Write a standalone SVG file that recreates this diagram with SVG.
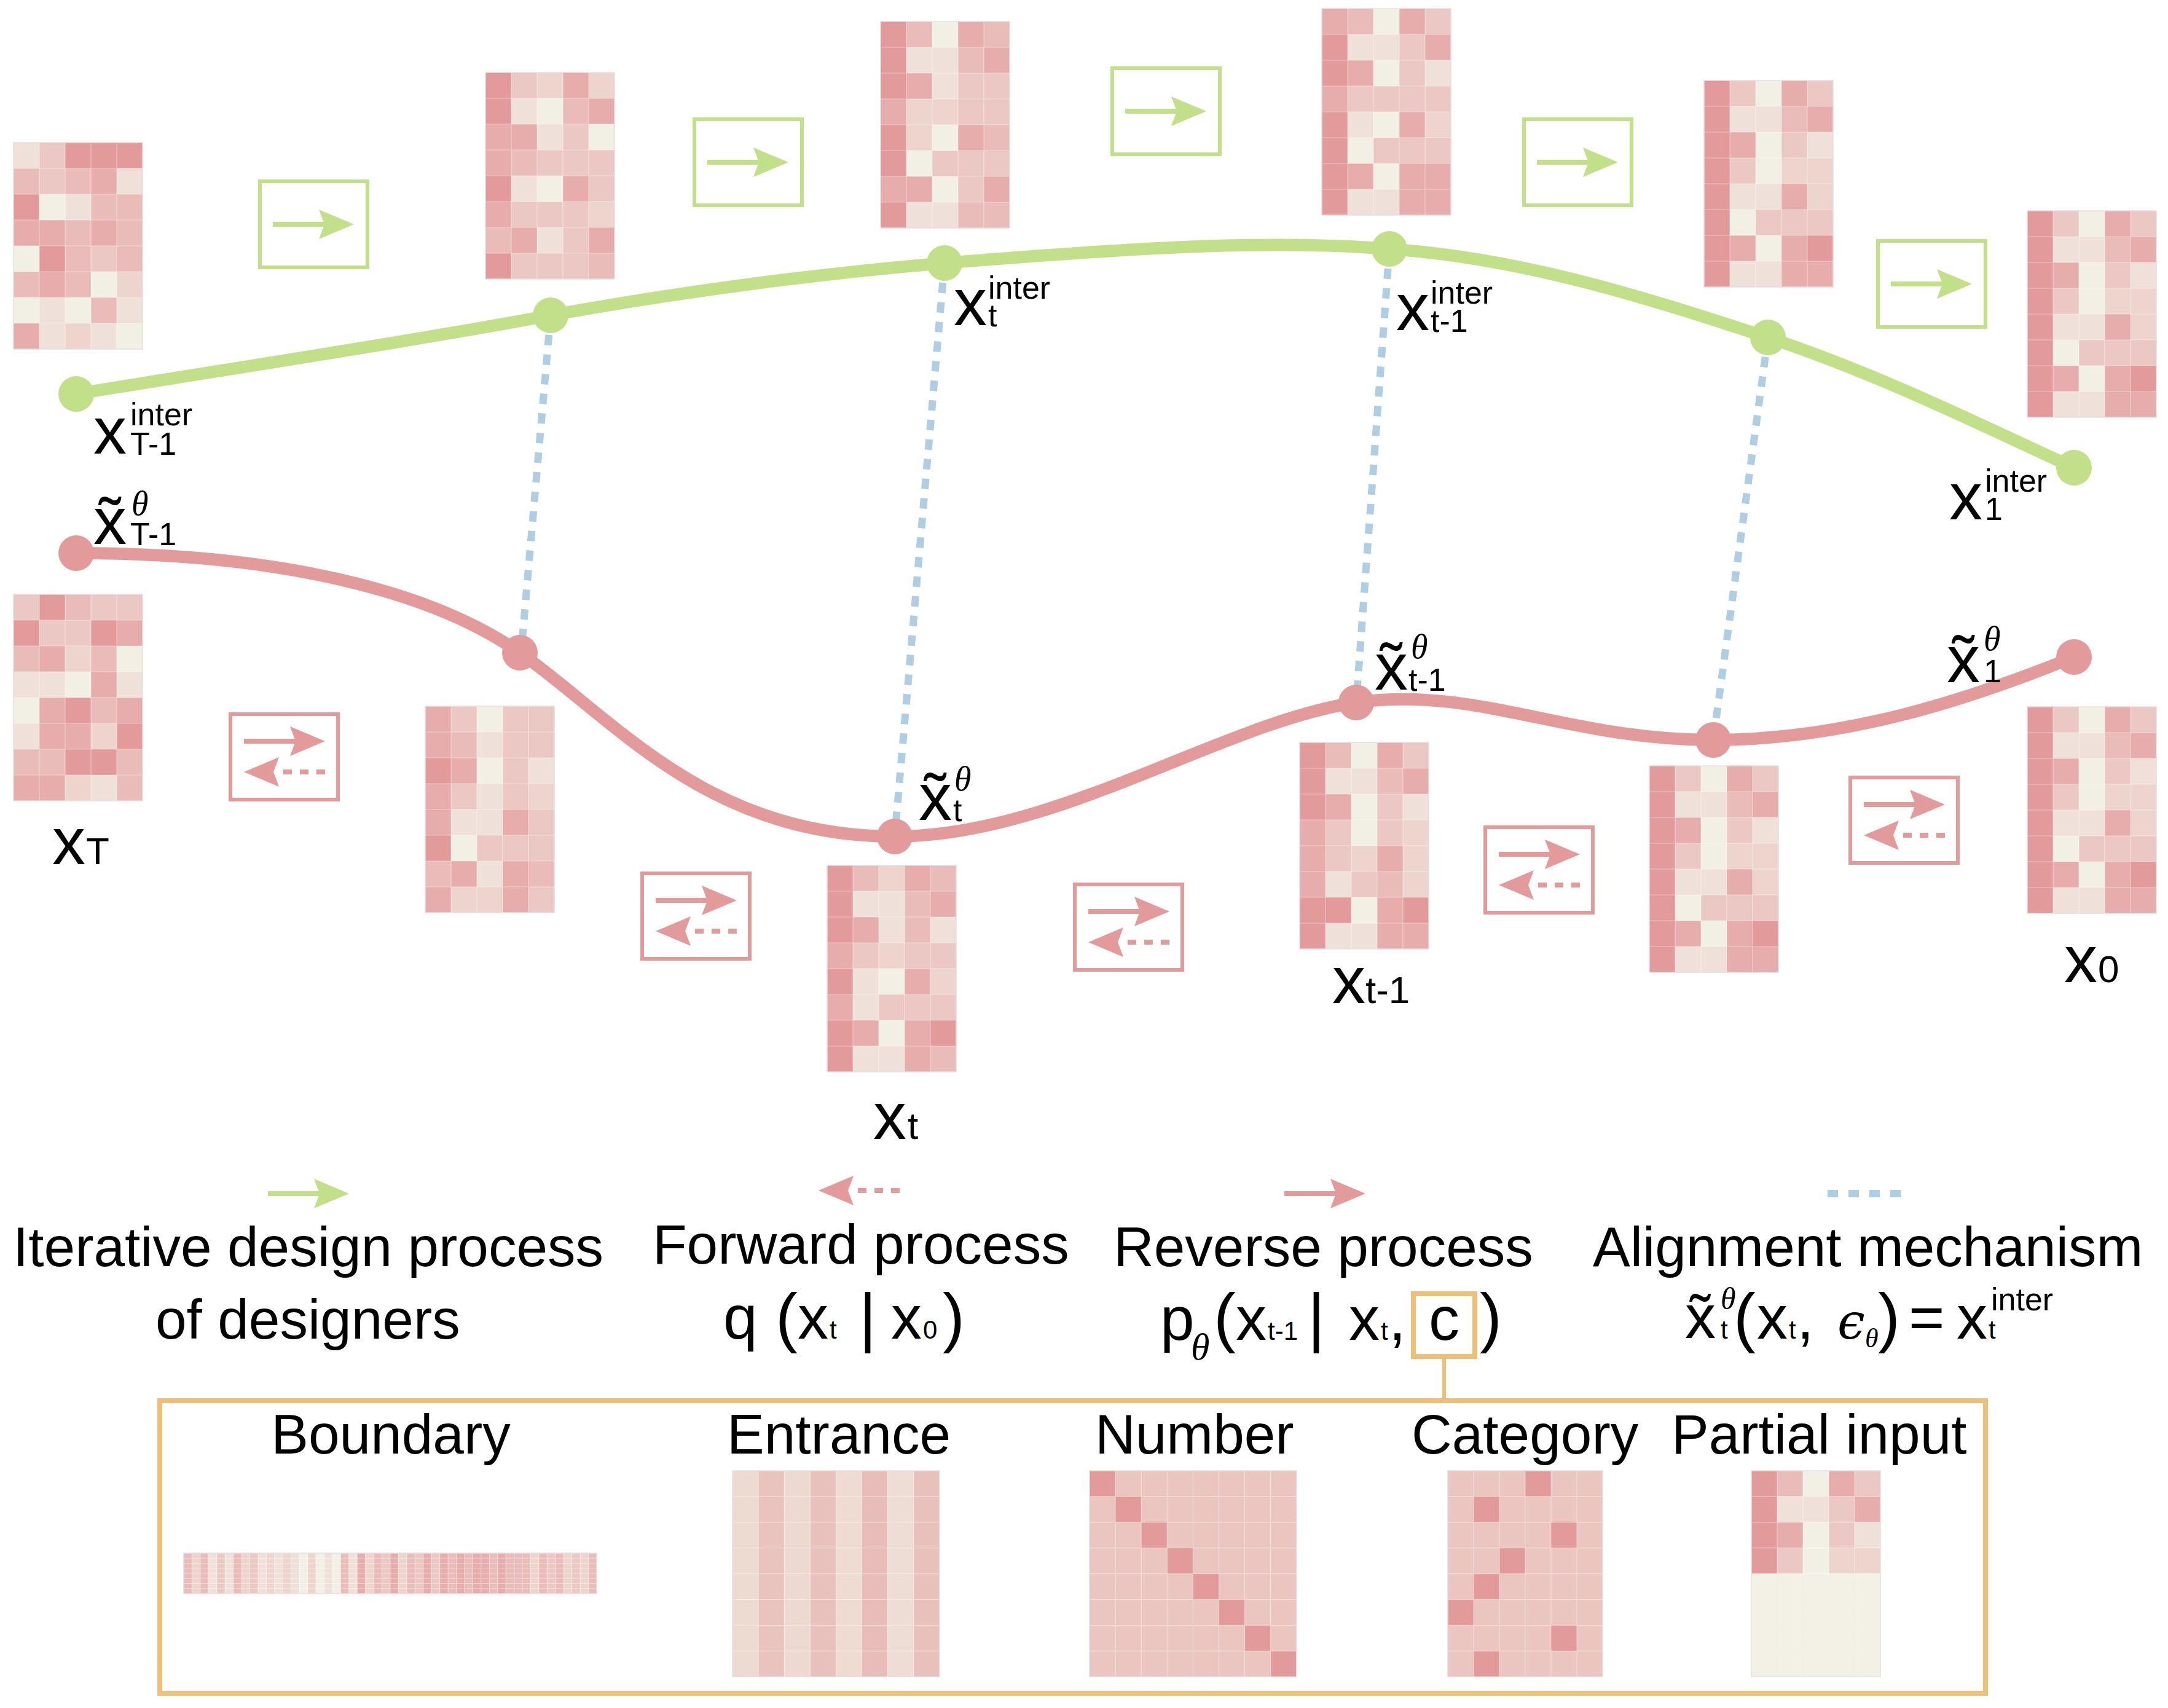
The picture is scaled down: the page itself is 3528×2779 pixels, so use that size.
<svg xmlns="http://www.w3.org/2000/svg" width="3528" height="2779" viewBox="0 0 3528 2779">
<style>
.t{font-family:"Liberation Sans",Arial,sans-serif;fill:#000}
.L{font-size:91px}
.F{font-size:100px}
.P{font-size:108px}
.v{font-size:108px}
.s{font-size:52px}
.m{font-size:62px}
.k{font-size:42px}
.th{font-family:"Liberation Serif","DejaVu Serif",serif;font-style:italic;fill:#000}
.tt{font-size:56px}
.a{fill:#E39A9B}.b{fill:#E6ADAC}.c{fill:#E9BCB9}.d{fill:#EBC8C3}.e{fill:#EDD5CE}.f{fill:#EFE1D9}.g{fill:#F2EFE4}
.gl{fill:none;stroke:#fff;stroke-opacity:0.4;stroke-width:1.2px;vector-effect:non-scaling-stroke}
.bd{fill:none;stroke:#E6E0E0;stroke-width:1.5px;vector-effect:non-scaling-stroke}
.gbox{fill:none;stroke:#C2DF89;stroke-width:6}
.pbox{fill:none;stroke:#E39A9B;stroke-width:6}
.obox{fill:none;stroke:#EDBF78;stroke-width:8}
.gline{fill:none;stroke:#C2DF89;stroke-width:20;stroke-linecap:round}
.pline{fill:none;stroke:#E39A9B;stroke-width:20;stroke-linecap:round}
.al{fill:none;stroke:#AFCDE3;stroke-width:12;stroke-dasharray:17 15}
</style>
<defs>
<path id="L58" class="gl" d="M1 0V8M2 0V8M3 0V8M4 0V8M0 1H5M0 2H5M0 3H5M0 4H5M0 5H5M0 6H5M0 7H5"/>
<path id="L88" class="gl" d="M1 0V8M2 0V8M3 0V8M4 0V8M5 0V8M6 0V8M7 0V8M0 1H8M0 2H8M0 3H8M0 4H8M0 5H8M0 6H8M0 7H8"/>
<path id="L68" class="gl" d="M1 0V8M2 0V8M3 0V8M4 0V8M5 0V8M0 1H6M0 2H6M0 3H6M0 4H6M0 5H6M0 6H6M0 7H6"/>
<path id="arR" d="M0,-4H82.5L75,-24L132,0L75,24L82.5,4H0Z"/>
<g id="arL"><path d="M0,0L57,-24L48,0L57,24Z" stroke="none"/><path d="M64,0H132" fill="none" stroke-width="8" stroke-dasharray="14 13"/></g>
<g id="pA">
<rect x="0" y="0" width="1" height="1" class="f"/><rect x="1" y="0" width="1" height="1" class="d"/><rect x="2" y="0" width="1" height="1" class="a"/><rect x="3" y="0" width="1" height="1" class="a"/><rect x="4" y="0" width="1" height="1" class="a"/>
<rect x="0" y="1" width="1" height="1" class="c"/><rect x="1" y="1" width="1" height="1" class="d"/><rect x="2" y="1" width="1" height="1" class="c"/><rect x="3" y="1" width="1" height="1" class="b"/><rect x="4" y="1" width="1" height="1" class="f"/>
<rect x="0" y="2" width="1" height="1" class="a"/><rect x="1" y="2" width="1" height="1" class="g"/><rect x="2" y="2" width="1" height="1" class="f"/><rect x="3" y="2" width="1" height="1" class="c"/><rect x="4" y="2" width="1" height="1" class="c"/>
<rect x="0" y="3" width="1" height="1" class="b"/><rect x="1" y="3" width="1" height="1" class="b"/><rect x="2" y="3" width="1" height="1" class="c"/><rect x="3" y="3" width="1" height="1" class="b"/><rect x="4" y="3" width="1" height="1" class="c"/>
<rect x="0" y="4" width="1" height="1" class="g"/><rect x="1" y="4" width="1" height="1" class="a"/><rect x="2" y="4" width="1" height="1" class="c"/><rect x="3" y="4" width="1" height="1" class="d"/><rect x="4" y="4" width="1" height="1" class="c"/>
<rect x="0" y="5" width="1" height="1" class="c"/><rect x="1" y="5" width="1" height="1" class="b"/><rect x="2" y="5" width="1" height="1" class="c"/><rect x="3" y="5" width="1" height="1" class="g"/><rect x="4" y="5" width="1" height="1" class="e"/>
<rect x="0" y="6" width="1" height="1" class="g"/><rect x="1" y="6" width="1" height="1" class="f"/><rect x="2" y="6" width="1" height="1" class="g"/><rect x="3" y="6" width="1" height="1" class="c"/><rect x="4" y="6" width="1" height="1" class="f"/>
<rect x="0" y="7" width="1" height="1" class="b"/><rect x="1" y="7" width="1" height="1" class="f"/><rect x="2" y="7" width="1" height="1" class="e"/><rect x="3" y="7" width="1" height="1" class="f"/><rect x="4" y="7" width="1" height="1" class="g"/>
<use href="#L58"/><rect width="5" height="8" class="bd"/>
</g>
<g id="pB">
<rect x="0" y="0" width="1" height="1" class="a"/><rect x="1" y="0" width="1" height="1" class="d"/><rect x="2" y="0" width="1" height="1" class="e"/><rect x="3" y="0" width="1" height="1" class="b"/><rect x="4" y="0" width="1" height="1" class="e"/>
<rect x="0" y="1" width="1" height="1" class="a"/><rect x="1" y="1" width="1" height="1" class="f"/><rect x="2" y="1" width="1" height="1" class="g"/><rect x="3" y="1" width="1" height="1" class="c"/><rect x="4" y="1" width="1" height="1" class="b"/>
<rect x="0" y="2" width="1" height="1" class="b"/><rect x="1" y="2" width="1" height="1" class="b"/><rect x="2" y="2" width="1" height="1" class="f"/><rect x="3" y="2" width="1" height="1" class="d"/><rect x="4" y="2" width="1" height="1" class="g"/>
<rect x="0" y="3" width="1" height="1" class="b"/><rect x="1" y="3" width="1" height="1" class="c"/><rect x="2" y="3" width="1" height="1" class="d"/><rect x="3" y="3" width="1" height="1" class="d"/><rect x="4" y="3" width="1" height="1" class="d"/>
<rect x="0" y="4" width="1" height="1" class="a"/><rect x="1" y="4" width="1" height="1" class="f"/><rect x="2" y="4" width="1" height="1" class="g"/><rect x="3" y="4" width="1" height="1" class="b"/><rect x="4" y="4" width="1" height="1" class="d"/>
<rect x="0" y="5" width="1" height="1" class="b"/><rect x="1" y="5" width="1" height="1" class="d"/><rect x="2" y="5" width="1" height="1" class="d"/><rect x="3" y="5" width="1" height="1" class="d"/><rect x="4" y="5" width="1" height="1" class="e"/>
<rect x="0" y="6" width="1" height="1" class="c"/><rect x="1" y="6" width="1" height="1" class="b"/><rect x="2" y="6" width="1" height="1" class="f"/><rect x="3" y="6" width="1" height="1" class="d"/><rect x="4" y="6" width="1" height="1" class="b"/>
<rect x="0" y="7" width="1" height="1" class="a"/><rect x="1" y="7" width="1" height="1" class="d"/><rect x="2" y="7" width="1" height="1" class="d"/><rect x="3" y="7" width="1" height="1" class="d"/><rect x="4" y="7" width="1" height="1" class="c"/>
<use href="#L58"/><rect width="5" height="8" class="bd"/>
</g>
<g id="pC">
<rect x="0" y="0" width="1" height="1" class="a"/><rect x="1" y="0" width="1" height="1" class="c"/><rect x="2" y="0" width="1" height="1" class="g"/><rect x="3" y="0" width="1" height="1" class="b"/><rect x="4" y="0" width="1" height="1" class="c"/>
<rect x="0" y="1" width="1" height="1" class="a"/><rect x="1" y="1" width="1" height="1" class="f"/><rect x="2" y="1" width="1" height="1" class="f"/><rect x="3" y="1" width="1" height="1" class="c"/><rect x="4" y="1" width="1" height="1" class="b"/>
<rect x="0" y="2" width="1" height="1" class="a"/><rect x="1" y="2" width="1" height="1" class="b"/><rect x="2" y="2" width="1" height="1" class="f"/><rect x="3" y="2" width="1" height="1" class="d"/><rect x="4" y="2" width="1" height="1" class="d"/>
<rect x="0" y="3" width="1" height="1" class="b"/><rect x="1" y="3" width="1" height="1" class="e"/><rect x="2" y="3" width="1" height="1" class="e"/><rect x="3" y="3" width="1" height="1" class="d"/><rect x="4" y="3" width="1" height="1" class="d"/>
<rect x="0" y="4" width="1" height="1" class="a"/><rect x="1" y="4" width="1" height="1" class="e"/><rect x="2" y="4" width="1" height="1" class="g"/><rect x="3" y="4" width="1" height="1" class="b"/><rect x="4" y="4" width="1" height="1" class="c"/>
<rect x="0" y="5" width="1" height="1" class="a"/><rect x="1" y="5" width="1" height="1" class="g"/><rect x="2" y="5" width="1" height="1" class="d"/><rect x="3" y="5" width="1" height="1" class="d"/><rect x="4" y="5" width="1" height="1" class="d"/>
<rect x="0" y="6" width="1" height="1" class="b"/><rect x="1" y="6" width="1" height="1" class="b"/><rect x="2" y="6" width="1" height="1" class="g"/><rect x="3" y="6" width="1" height="1" class="d"/><rect x="4" y="6" width="1" height="1" class="b"/>
<rect x="0" y="7" width="1" height="1" class="a"/><rect x="1" y="7" width="1" height="1" class="f"/><rect x="2" y="7" width="1" height="1" class="f"/><rect x="3" y="7" width="1" height="1" class="c"/><rect x="4" y="7" width="1" height="1" class="c"/>
<use href="#L58"/><rect width="5" height="8" class="bd"/>
</g>
<g id="pD">
<rect x="0" y="0" width="1" height="1" class="b"/><rect x="1" y="0" width="1" height="1" class="c"/><rect x="2" y="0" width="1" height="1" class="g"/><rect x="3" y="0" width="1" height="1" class="b"/><rect x="4" y="0" width="1" height="1" class="d"/>
<rect x="0" y="1" width="1" height="1" class="a"/><rect x="1" y="1" width="1" height="1" class="f"/><rect x="2" y="1" width="1" height="1" class="f"/><rect x="3" y="1" width="1" height="1" class="d"/><rect x="4" y="1" width="1" height="1" class="b"/>
<rect x="0" y="2" width="1" height="1" class="a"/><rect x="1" y="2" width="1" height="1" class="b"/><rect x="2" y="2" width="1" height="1" class="g"/><rect x="3" y="2" width="1" height="1" class="d"/><rect x="4" y="2" width="1" height="1" class="f"/>
<rect x="0" y="3" width="1" height="1" class="b"/><rect x="1" y="3" width="1" height="1" class="d"/><rect x="2" y="3" width="1" height="1" class="d"/><rect x="3" y="3" width="1" height="1" class="d"/><rect x="4" y="3" width="1" height="1" class="d"/>
<rect x="0" y="4" width="1" height="1" class="a"/><rect x="1" y="4" width="1" height="1" class="f"/><rect x="2" y="4" width="1" height="1" class="g"/><rect x="3" y="4" width="1" height="1" class="b"/><rect x="4" y="4" width="1" height="1" class="e"/>
<rect x="0" y="5" width="1" height="1" class="a"/><rect x="1" y="5" width="1" height="1" class="g"/><rect x="2" y="5" width="1" height="1" class="d"/><rect x="3" y="5" width="1" height="1" class="d"/><rect x="4" y="5" width="1" height="1" class="d"/>
<rect x="0" y="6" width="1" height="1" class="a"/><rect x="1" y="6" width="1" height="1" class="b"/><rect x="2" y="6" width="1" height="1" class="g"/><rect x="3" y="6" width="1" height="1" class="b"/><rect x="4" y="6" width="1" height="1" class="b"/>
<rect x="0" y="7" width="1" height="1" class="a"/><rect x="1" y="7" width="1" height="1" class="f"/><rect x="2" y="7" width="1" height="1" class="f"/><rect x="3" y="7" width="1" height="1" class="b"/><rect x="4" y="7" width="1" height="1" class="b"/>
<use href="#L58"/><rect width="5" height="8" class="bd"/>
</g>
<g id="pE">
<rect x="0" y="0" width="1" height="1" class="a"/><rect x="1" y="0" width="1" height="1" class="d"/><rect x="2" y="0" width="1" height="1" class="g"/><rect x="3" y="0" width="1" height="1" class="b"/><rect x="4" y="0" width="1" height="1" class="d"/>
<rect x="0" y="1" width="1" height="1" class="a"/><rect x="1" y="1" width="1" height="1" class="f"/><rect x="2" y="1" width="1" height="1" class="f"/><rect x="3" y="1" width="1" height="1" class="c"/><rect x="4" y="1" width="1" height="1" class="b"/>
<rect x="0" y="2" width="1" height="1" class="a"/><rect x="1" y="2" width="1" height="1" class="b"/><rect x="2" y="2" width="1" height="1" class="g"/><rect x="3" y="2" width="1" height="1" class="d"/><rect x="4" y="2" width="1" height="1" class="f"/>
<rect x="0" y="3" width="1" height="1" class="a"/><rect x="1" y="3" width="1" height="1" class="d"/><rect x="2" y="3" width="1" height="1" class="g"/><rect x="3" y="3" width="1" height="1" class="e"/><rect x="4" y="3" width="1" height="1" class="e"/>
<rect x="0" y="4" width="1" height="1" class="a"/><rect x="1" y="4" width="1" height="1" class="f"/><rect x="2" y="4" width="1" height="1" class="f"/><rect x="3" y="4" width="1" height="1" class="b"/><rect x="4" y="4" width="1" height="1" class="e"/>
<rect x="0" y="5" width="1" height="1" class="a"/><rect x="1" y="5" width="1" height="1" class="g"/><rect x="2" y="5" width="1" height="1" class="d"/><rect x="3" y="5" width="1" height="1" class="d"/><rect x="4" y="5" width="1" height="1" class="d"/>
<rect x="0" y="6" width="1" height="1" class="a"/><rect x="1" y="6" width="1" height="1" class="b"/><rect x="2" y="6" width="1" height="1" class="g"/><rect x="3" y="6" width="1" height="1" class="b"/><rect x="4" y="6" width="1" height="1" class="a"/>
<rect x="0" y="7" width="1" height="1" class="a"/><rect x="1" y="7" width="1" height="1" class="f"/><rect x="2" y="7" width="1" height="1" class="f"/><rect x="3" y="7" width="1" height="1" class="b"/><rect x="4" y="7" width="1" height="1" class="b"/>
<use href="#L58"/><rect width="5" height="8" class="bd"/>
</g>
<g id="pH">
<rect x="0" y="0" width="1" height="1" class="d"/><rect x="1" y="0" width="1" height="1" class="a"/><rect x="2" y="0" width="1" height="1" class="c"/><rect x="3" y="0" width="1" height="1" class="d"/><rect x="4" y="0" width="1" height="1" class="d"/>
<rect x="0" y="1" width="1" height="1" class="a"/><rect x="1" y="1" width="1" height="1" class="d"/><rect x="2" y="1" width="1" height="1" class="d"/><rect x="3" y="1" width="1" height="1" class="a"/><rect x="4" y="1" width="1" height="1" class="b"/>
<rect x="0" y="2" width="1" height="1" class="c"/><rect x="1" y="2" width="1" height="1" class="b"/><rect x="2" y="2" width="1" height="1" class="e"/><rect x="3" y="2" width="1" height="1" class="c"/><rect x="4" y="2" width="1" height="1" class="g"/>
<rect x="0" y="3" width="1" height="1" class="f"/><rect x="1" y="3" width="1" height="1" class="f"/><rect x="2" y="3" width="1" height="1" class="g"/><rect x="3" y="3" width="1" height="1" class="b"/><rect x="4" y="3" width="1" height="1" class="f"/>
<rect x="0" y="4" width="1" height="1" class="g"/><rect x="1" y="4" width="1" height="1" class="b"/><rect x="2" y="4" width="1" height="1" class="a"/><rect x="3" y="4" width="1" height="1" class="c"/><rect x="4" y="4" width="1" height="1" class="b"/>
<rect x="0" y="5" width="1" height="1" class="f"/><rect x="1" y="5" width="1" height="1" class="b"/><rect x="2" y="5" width="1" height="1" class="b"/><rect x="3" y="5" width="1" height="1" class="e"/><rect x="4" y="5" width="1" height="1" class="a"/>
<rect x="0" y="6" width="1" height="1" class="c"/><rect x="1" y="6" width="1" height="1" class="c"/><rect x="2" y="6" width="1" height="1" class="a"/><rect x="3" y="6" width="1" height="1" class="a"/><rect x="4" y="6" width="1" height="1" class="c"/>
<rect x="0" y="7" width="1" height="1" class="b"/><rect x="1" y="7" width="1" height="1" class="b"/><rect x="2" y="7" width="1" height="1" class="e"/><rect x="3" y="7" width="1" height="1" class="f"/><rect x="4" y="7" width="1" height="1" class="c"/>
<use href="#L58"/><rect width="5" height="8" class="bd"/>
</g>
<g id="pI">
<rect x="0" y="0" width="1" height="1" class="b"/><rect x="1" y="0" width="1" height="1" class="d"/><rect x="2" y="0" width="1" height="1" class="g"/><rect x="3" y="0" width="1" height="1" class="d"/><rect x="4" y="0" width="1" height="1" class="d"/>
<rect x="0" y="1" width="1" height="1" class="b"/><rect x="1" y="1" width="1" height="1" class="c"/><rect x="2" y="1" width="1" height="1" class="f"/><rect x="3" y="1" width="1" height="1" class="d"/><rect x="4" y="1" width="1" height="1" class="d"/>
<rect x="0" y="2" width="1" height="1" class="a"/><rect x="1" y="2" width="1" height="1" class="b"/><rect x="2" y="2" width="1" height="1" class="g"/><rect x="3" y="2" width="1" height="1" class="d"/><rect x="4" y="2" width="1" height="1" class="f"/>
<rect x="0" y="3" width="1" height="1" class="b"/><rect x="1" y="3" width="1" height="1" class="d"/><rect x="2" y="3" width="1" height="1" class="f"/><rect x="3" y="3" width="1" height="1" class="d"/><rect x="4" y="3" width="1" height="1" class="e"/>
<rect x="0" y="4" width="1" height="1" class="b"/><rect x="1" y="4" width="1" height="1" class="f"/><rect x="2" y="4" width="1" height="1" class="f"/><rect x="3" y="4" width="1" height="1" class="b"/><rect x="4" y="4" width="1" height="1" class="d"/>
<rect x="0" y="5" width="1" height="1" class="a"/><rect x="1" y="5" width="1" height="1" class="g"/><rect x="2" y="5" width="1" height="1" class="d"/><rect x="3" y="5" width="1" height="1" class="d"/><rect x="4" y="5" width="1" height="1" class="d"/>
<rect x="0" y="6" width="1" height="1" class="c"/><rect x="1" y="6" width="1" height="1" class="b"/><rect x="2" y="6" width="1" height="1" class="f"/><rect x="3" y="6" width="1" height="1" class="b"/><rect x="4" y="6" width="1" height="1" class="c"/>
<rect x="0" y="7" width="1" height="1" class="b"/><rect x="1" y="7" width="1" height="1" class="e"/><rect x="2" y="7" width="1" height="1" class="e"/><rect x="3" y="7" width="1" height="1" class="b"/><rect x="4" y="7" width="1" height="1" class="d"/>
<use href="#L58"/><rect width="5" height="8" class="bd"/>
</g>
<g id="pJ">
<rect x="0" y="0" width="1" height="1" class="a"/><rect x="1" y="0" width="1" height="1" class="c"/><rect x="2" y="0" width="1" height="1" class="e"/><rect x="3" y="0" width="1" height="1" class="b"/><rect x="4" y="0" width="1" height="1" class="c"/>
<rect x="0" y="1" width="1" height="1" class="a"/><rect x="1" y="1" width="1" height="1" class="f"/><rect x="2" y="1" width="1" height="1" class="f"/><rect x="3" y="1" width="1" height="1" class="c"/><rect x="4" y="1" width="1" height="1" class="b"/>
<rect x="0" y="2" width="1" height="1" class="a"/><rect x="1" y="2" width="1" height="1" class="b"/><rect x="2" y="2" width="1" height="1" class="f"/><rect x="3" y="2" width="1" height="1" class="c"/><rect x="4" y="2" width="1" height="1" class="f"/>
<rect x="0" y="3" width="1" height="1" class="b"/><rect x="1" y="3" width="1" height="1" class="d"/><rect x="2" y="3" width="1" height="1" class="e"/><rect x="3" y="3" width="1" height="1" class="d"/><rect x="4" y="3" width="1" height="1" class="d"/>
<rect x="0" y="4" width="1" height="1" class="a"/><rect x="1" y="4" width="1" height="1" class="f"/><rect x="2" y="4" width="1" height="1" class="g"/><rect x="3" y="4" width="1" height="1" class="b"/><rect x="4" y="4" width="1" height="1" class="e"/>
<rect x="0" y="5" width="1" height="1" class="b"/><rect x="1" y="5" width="1" height="1" class="f"/><rect x="2" y="5" width="1" height="1" class="d"/><rect x="3" y="5" width="1" height="1" class="d"/><rect x="4" y="5" width="1" height="1" class="d"/>
<rect x="0" y="6" width="1" height="1" class="a"/><rect x="1" y="6" width="1" height="1" class="b"/><rect x="2" y="6" width="1" height="1" class="g"/><rect x="3" y="6" width="1" height="1" class="b"/><rect x="4" y="6" width="1" height="1" class="a"/>
<rect x="0" y="7" width="1" height="1" class="a"/><rect x="1" y="7" width="1" height="1" class="f"/><rect x="2" y="7" width="1" height="1" class="f"/><rect x="3" y="7" width="1" height="1" class="b"/><rect x="4" y="7" width="1" height="1" class="c"/>
<use href="#L58"/><rect width="5" height="8" class="bd"/>
</g>
<g id="pK">
<rect x="0" y="0" width="1" height="1" class="a"/><rect x="1" y="0" width="1" height="1" class="c"/><rect x="2" y="0" width="1" height="1" class="g"/><rect x="3" y="0" width="1" height="1" class="b"/><rect x="4" y="0" width="1" height="1" class="d"/>
<rect x="0" y="1" width="1" height="1" class="a"/><rect x="1" y="1" width="1" height="1" class="f"/><rect x="2" y="1" width="1" height="1" class="f"/><rect x="3" y="1" width="1" height="1" class="c"/><rect x="4" y="1" width="1" height="1" class="b"/>
<rect x="0" y="2" width="1" height="1" class="a"/><rect x="1" y="2" width="1" height="1" class="b"/><rect x="2" y="2" width="1" height="1" class="g"/><rect x="3" y="2" width="1" height="1" class="d"/><rect x="4" y="2" width="1" height="1" class="f"/>
<rect x="0" y="3" width="1" height="1" class="b"/><rect x="1" y="3" width="1" height="1" class="d"/><rect x="2" y="3" width="1" height="1" class="g"/><rect x="3" y="3" width="1" height="1" class="d"/><rect x="4" y="3" width="1" height="1" class="e"/>
<rect x="0" y="4" width="1" height="1" class="b"/><rect x="1" y="4" width="1" height="1" class="d"/><rect x="2" y="4" width="1" height="1" class="e"/><rect x="3" y="4" width="1" height="1" class="b"/><rect x="4" y="4" width="1" height="1" class="e"/>
<rect x="0" y="5" width="1" height="1" class="b"/><rect x="1" y="5" width="1" height="1" class="f"/><rect x="2" y="5" width="1" height="1" class="d"/><rect x="3" y="5" width="1" height="1" class="c"/><rect x="4" y="5" width="1" height="1" class="e"/>
<rect x="0" y="6" width="1" height="1" class="a"/><rect x="1" y="6" width="1" height="1" class="a"/><rect x="2" y="6" width="1" height="1" class="g"/><rect x="3" y="6" width="1" height="1" class="b"/><rect x="4" y="6" width="1" height="1" class="a"/>
<rect x="0" y="7" width="1" height="1" class="a"/><rect x="1" y="7" width="1" height="1" class="f"/><rect x="2" y="7" width="1" height="1" class="f"/><rect x="3" y="7" width="1" height="1" class="b"/><rect x="4" y="7" width="1" height="1" class="b"/>
<use href="#L58"/><rect width="5" height="8" class="bd"/>
</g>
</defs>

<rect width="3528" height="2779" fill="#fff"/>

<!-- grids (nodes) -->
<g id="grid-top-1"><use href="#pA" transform="translate(22,232) scale(42)"/></g>
<g id="grid-top-2"><use href="#pB" transform="translate(790,118) scale(42)"/></g>
<g id="grid-top-3"><use href="#pC" transform="translate(1433,35) scale(42)"/></g>
<g id="grid-top-4"><use href="#pD" transform="translate(2151,14) scale(42)"/></g>
<g id="grid-top-5"><use href="#pE" transform="translate(2773,131) scale(42)"/></g>
<g id="grid-top-6"><use href="#pE" transform="translate(3299,343) scale(42)"/></g>
<g id="grid-xT"><use href="#pH" transform="translate(22,967) scale(42)"/></g>
<g id="grid-bot-2"><use href="#pI" transform="translate(692,1149) scale(42)"/></g>
<g id="grid-xt"><use href="#pJ" transform="translate(1346,1408) scale(42)"/></g>
<g id="grid-xt-1"><use href="#pK" transform="translate(2115,1208) scale(42)"/></g>
<g id="grid-bot-5"><use href="#pE" transform="translate(2684,1246) scale(42)"/></g>
<g id="grid-x0"><use href="#pE" transform="translate(3299,1150) scale(42)"/></g>

<!-- iterative step boxes -->
<g id="step-g1"><rect class="gbox" x="423" y="295" width="175" height="140"/><use href="#arR" fill="#C2DF89" transform="translate(444,365)"/></g>
<g id="step-g2"><rect class="gbox" x="1130" y="194" width="175" height="140"/><use href="#arR" fill="#C2DF89" transform="translate(1151,264)"/></g>
<g id="step-g3"><rect class="gbox" x="1810" y="111" width="175" height="140"/><use href="#arR" fill="#C2DF89" transform="translate(1831,181)"/></g>
<g id="step-g4"><rect class="gbox" x="2480" y="194" width="175" height="140"/><use href="#arR" fill="#C2DF89" transform="translate(2501,264)"/></g>
<g id="step-g5"><rect class="gbox" x="3056" y="392" width="175" height="140"/><use href="#arR" fill="#C2DF89" transform="translate(3077,462)"/></g>

<g id="step-p1"><rect class="pbox" x="375" y="1162" width="175" height="139"/><use href="#arR" fill="#E39A9B" transform="translate(397,1206)"/><use href="#arL" fill="#E39A9B" stroke="#E39A9B" transform="translate(397,1256)"/></g>
<g id="step-p2"><rect class="pbox" x="1045" y="1421" width="175" height="139"/><use href="#arR" fill="#E39A9B" transform="translate(1067,1465)"/><use href="#arL" fill="#E39A9B" stroke="#E39A9B" transform="translate(1067,1515)"/></g>
<g id="step-p3"><rect class="pbox" x="1749" y="1439" width="175" height="139"/><use href="#arR" fill="#E39A9B" transform="translate(1771,1483)"/><use href="#arL" fill="#E39A9B" stroke="#E39A9B" transform="translate(1771,1533)"/></g>
<g id="step-p4"><rect class="pbox" x="2417" y="1346" width="175" height="139"/><use href="#arR" fill="#E39A9B" transform="translate(2439,1390)"/><use href="#arL" fill="#E39A9B" stroke="#E39A9B" transform="translate(2439,1440)"/></g>
<g id="step-p5"><rect class="pbox" x="3011" y="1265" width="175" height="139"/><use href="#arR" fill="#E39A9B" transform="translate(3033,1309)"/><use href="#arL" fill="#E39A9B" stroke="#E39A9B" transform="translate(3033,1359)"/></g>

<!-- connectors -->
<g id="connectors">
<line class="al" x1="896" y1="513" x2="848" y2="1062"/>
<line class="al" x1="1537" y1="428" x2="1456" y2="1361"/>
<line class="al" x1="2261" y1="405" x2="2207" y2="1143"/>
<line class="al" x1="2877" y1="549" x2="2788" y2="1204"/>
<path class="gline" d="M124,641 C400,596 700,550 896,513 C1100,476 1330,445 1537,428 C1800,407 2050,388 2261,405 C2480,420 2680,485 2877,549 C3060,610 3220,690 3375,761"/>
<path class="pline" d="M124,900 C450,900 700,960 846,1062 C1000,1170 1150,1361 1456,1361 C1720,1361 1990,1175 2207,1143 C2400,1115 2550,1204 2788,1204 C3000,1204 3200,1140 3375,1069"/>
</g>

<!-- state dots -->
<g id="dots-green" fill="#C2DF89">
<circle cx="124" cy="641" r="29"/><circle cx="896" cy="513" r="29"/><circle cx="1537" cy="428" r="29"/><circle cx="2261" cy="405" r="29"/><circle cx="2877" cy="549" r="29"/><circle cx="3375" cy="761" r="29"/>
</g>
<g id="dots-pink" fill="#E39A9B">
<circle cx="124" cy="900" r="29"/><circle cx="846" cy="1062" r="29"/><circle cx="1456" cy="1361" r="29"/><circle cx="2207" cy="1143" r="29"/><circle cx="2788" cy="1204" r="29"/><circle cx="3375" cy="1069" r="29"/>
</g>

<!-- labels -->
<g id="lbl-xT-1-inter"><text class="t v" x="152" y="738">x</text><text class="t s" x="212" y="692">inter</text><text class="t s" x="212" y="740">T-1</text></g>
<g id="lbl-xt-inter"><text class="t v" x="1552" y="529">x</text><text class="t s" x="1608" y="486">inter</text><text class="t s" x="1608" y="531">t</text></g>
<g id="lbl-xt-1-inter"><text class="t v" x="2272" y="537">x</text><text class="t s" x="2328" y="494">inter</text><text class="t s" x="2328" y="540">t-1</text></g>
<g id="lbl-x1-inter"><text class="t v" x="3172" y="845">x</text><text class="t s" x="3230" y="800">inter</text><text class="t s" x="3230" y="846">1</text></g>

<g id="lbl-xT-1-theta"><text class="t v" x="152" y="885">x&#x303;</text><text class="th tt" x="214" y="838">θ</text><text class="t s" x="212" y="887">T-1</text></g>
<g id="lbl-xt-theta"><text class="t v" x="1495" y="1334">x&#x303;</text><text class="th tt" x="1553" y="1286">θ</text><text class="t s" x="1551" y="1336">t</text></g>
<g id="lbl-xt-1-theta"><text class="t v" x="2237" y="1122">x&#x303;</text><text class="th tt" x="2296" y="1071">θ</text><text class="t s" x="2292" y="1124">t-1</text></g>
<g id="lbl-x1-theta"><text class="t v" x="3168" y="1110">x&#x303;</text><text class="th tt" x="3228" y="1058">θ</text><text class="t s" x="3228" y="1110">1</text></g>

<g id="lbl-xT"><text class="t v" x="85" y="1406">x</text><text class="t m" x="140" y="1406">T</text></g>
<g id="lbl-xt"><text class="t v" x="1421" y="1853">x</text><text class="t m" x="1477" y="1853">t</text></g>
<g id="lbl-xt-1"><text class="t v" x="2168" y="1632">x</text><text class="t m" x="2222" y="1632">t-1</text></g>
<g id="lbl-x0"><text class="t v" x="3359" y="1598">x</text><text class="t m" x="3414" y="1598">0</text></g>

<!-- legend -->
<g id="legend-iterative">
<use href="#arR" fill="#C2DF89" transform="translate(436,1942)"/>
<text class="t L" x="21" y="2060">Iterative design process</text>
<text class="t L" x="253" y="2178">of designers</text>
</g>
<g id="legend-forward">
<use href="#arL" fill="#E39A9B" stroke="#E39A9B" transform="translate(1332,1937)"/>
<text class="t L" x="1062" y="2056">Forward process</text>
<text class="t F" x="1177" y="2178">q</text>
<text class="t P" x="1262" y="2180">(</text>
<text class="t F" x="1298" y="2178">x</text>
<text class="t k" x="1350" y="2178">t</text>
<text class="t P" x="1398" y="2180">|</text>
<text class="t F" x="1450" y="2178">x</text>
<text class="t k" x="1502" y="2178">0</text>
<text class="t P" x="1534" y="2180">)</text>
</g>
<g id="legend-reverse">
<use href="#arR" fill="#E39A9B" transform="translate(2090,1942)"/>
<text class="t L" x="1812" y="2060">Reverse process</text>
<text class="t F" x="1888" y="2180">p</text>
<text class="th" font-size="62" x="1938" y="2212">θ</text>
<text class="t P" x="1975" y="2180">(</text>
<text class="t F" x="2011" y="2180">x</text>
<text class="t k" x="2063" y="2180">t-1</text>
<text class="t P" x="2128" y="2180">|</text>
<text class="t F" x="2195" y="2180">x</text>
<text class="t k" x="2247" y="2180">t</text>
<text class="t F" x="2260" y="2180">,</text>
<rect class="obox" x="2300" y="2105" width="100" height="102"/>
<text class="t F" x="2325" y="2180">c</text>
<text class="t P" x="2408" y="2180">)</text>
</g>
<g id="legend-alignment">
<line x1="2974" y1="1942" x2="3094" y2="1942" stroke="#AFCDE3" stroke-width="12" stroke-dasharray="17 17"/>
<text class="t L" x="2592" y="2060">Alignment mechanism</text>
<text class="t F" x="2742" y="2177">x&#x303;</text>
<text class="th" font-size="50" x="2800" y="2130">θ</text>
<text class="t k" x="2800" y="2178">t</text>
<text class="t P" x="2821" y="2180">(</text>
<text class="t F" x="2859" y="2178">x</text>
<text class="t k" x="2911" y="2178">t</text>
<text class="t F" x="2924" y="2178">,</text>
<text font-family="DejaVu Serif,serif" font-style="italic" font-size="80" x="2990" y="2178">ϵ</text>
<text class="th" font-size="44" x="3035" y="2192">θ</text>
<text class="t P" x="3056" y="2180">)</text>
<text class="t F" x="3106" y="2178">=</text>
<text class="t F" x="3184" y="2178">x</text>
<text class="t k" x="3236" y="2178">t</text>
<text class="t s" x="3240" y="2132">inter</text>
</g>

<!-- condition panel -->
<g id="condition-link"><line x1="2350" y1="2207" x2="2350" y2="2279" stroke="#EDBF78" stroke-width="6"/></g>
<g id="condition-panel">
<rect class="obox" x="260" y="2279" width="2971" height="476"/>
</g>
<g id="cond-boundary">
<text class="t L" x="636" y="2365" text-anchor="middle">Boundary</text>
<g transform="translate(299,2527) scale(13.44,8.25)">
<rect x="0" width="1" height="8" class="c"/><rect x="1" width="1" height="8" class="e"/><rect x="2" width="1" height="8" class="c"/><rect x="3" width="1" height="8" class="f"/><rect x="4" width="1" height="8" class="d"/><rect x="5" width="1" height="8" class="f"/><rect x="6" width="1" height="8" class="c"/><rect x="7" width="1" height="8" class="e"/><rect x="8" width="1" height="8" class="d"/><rect x="9" width="1" height="8" class="f"/>
<rect x="10" width="1" height="8" class="e"/><rect x="11" width="1" height="8" class="f"/><rect x="12" width="1" height="8" class="e"/><rect x="13" width="1" height="8" class="f"/><rect x="14" width="1" height="8" class="g"/><rect x="15" width="1" height="8" class="e"/><rect x="16" width="1" height="8" class="g"/><rect x="17" width="1" height="8" class="f"/><rect x="18" width="1" height="8" class="g"/><rect x="19" width="1" height="8" class="c"/>
<rect x="20" width="1" height="8" class="f"/><rect x="21" width="1" height="8" class="b"/><rect x="22" width="1" height="8" class="e"/><rect x="23" width="1" height="8" class="c"/><rect x="24" width="1" height="8" class="d"/><rect x="25" width="1" height="8" class="b"/><rect x="26" width="1" height="8" class="e"/><rect x="27" width="1" height="8" class="c"/><rect x="28" width="1" height="8" class="d"/><rect x="29" width="1" height="8" class="b"/>
<rect x="30" width="1" height="8" class="d"/><rect x="31" width="1" height="8" class="b"/><rect x="32" width="1" height="8" class="c"/><rect x="33" width="1" height="8" class="b"/><rect x="34" width="1" height="8" class="c"/><rect x="35" width="1" height="8" class="b"/><rect x="36" width="1" height="8" class="b"/><rect x="37" width="1" height="8" class="c"/><rect x="38" width="1" height="8" class="b"/><rect x="39" width="1" height="8" class="c"/>
<rect x="40" width="1" height="8" class="c"/><rect x="41" width="1" height="8" class="c"/><rect x="42" width="1" height="8" class="e"/><rect x="43" width="1" height="8" class="c"/><rect x="44" width="1" height="8" class="d"/><rect x="45" width="1" height="8" class="c"/><rect x="46" width="1" height="8" class="e"/><rect x="47" width="1" height="8" class="d"/><rect x="48" width="1" height="8" class="e"/><rect x="49" width="1" height="8" class="c"/>
<path class="gl" d="M1 0V8M2 0V8M3 0V8M4 0V8M5 0V8M6 0V8M7 0V8M8 0V8M9 0V8M10 0V8M11 0V8M12 0V8M13 0V8M14 0V8M15 0V8M16 0V8M17 0V8M18 0V8M19 0V8M20 0V8M21 0V8M22 0V8M23 0V8M24 0V8M25 0V8M26 0V8M27 0V8M28 0V8M29 0V8M30 0V8M31 0V8M32 0V8M33 0V8M34 0V8M35 0V8M36 0V8M37 0V8M38 0V8M39 0V8M40 0V8M41 0V8M42 0V8M43 0V8M44 0V8M45 0V8M46 0V8M47 0V8M48 0V8M49 0V8M0 1H50M0 2H50M0 3H50M0 4H50M0 5H50M0 6H50M0 7H50"/>
<rect width="50" height="8" class="bd"/>
</g>
</g>
<g id="cond-entrance">
<text class="t L" x="1183" y="2365">Entrance</text>
<g transform="translate(1192,2393) scale(42.1,41.9)">
<rect x="0" width="1" height="8" fill="#EDDBD2"/><rect x="1" width="1" height="8" fill="#E9C3BE"/><rect x="2" width="1" height="8" fill="#EDD9D0"/><rect x="3" width="1" height="8" fill="#E9C1BC"/><rect x="4" width="1" height="8" fill="#EEDCD3"/><rect x="5" width="1" height="8" fill="#E8BDB9"/><rect x="6" width="1" height="8" fill="#EEDDD4"/><rect x="7" width="1" height="8" fill="#E9C1BC"/>
<use href="#L88"/><rect width="8" height="8" class="bd"/>
</g>
</g>
<g id="cond-number">
<text class="t L" x="1782" y="2365">Number</text>
<g transform="translate(1773,2393) scale(42.1,41.9)">
<rect width="8" height="8" fill="#EBC6C1"/>
<rect x="0" y="0" width="1" height="1" class="a"/><rect x="1" y="1" width="1" height="1" class="a"/><rect x="2" y="2" width="1" height="1" class="a"/><rect x="3" y="3" width="1" height="1" class="a"/><rect x="4" y="4" width="1" height="1" class="a"/><rect x="5" y="5" width="1" height="1" class="a"/><rect x="6" y="6" width="1" height="1" class="a"/><rect x="7" y="7" width="1" height="1" class="a"/>
<use href="#L88"/><rect width="8" height="8" class="bd"/>
</g>
</g>
<g id="cond-category">
<text class="t L" x="2297" y="2365">Category</text>
<g transform="translate(2356,2393) scale(42,41.9)">
<rect width="6" height="8" fill="#EBC6C1"/>
<rect x="3" y="0" width="1" height="1" class="a"/><rect x="1" y="1" width="1" height="1" class="a"/><rect x="4" y="2" width="1" height="1" class="a"/><rect x="2" y="3" width="1" height="1" class="a"/><rect x="1" y="4" width="1" height="1" class="a"/><rect x="0" y="5" width="1" height="1" class="a"/><rect x="4" y="6" width="1" height="1" class="a"/><rect x="1" y="7" width="1" height="1" class="a"/>
<use href="#L68"/><rect width="6" height="8" class="bd"/>
</g>
</g>
<g id="cond-partial">
<text class="t L" x="2720" y="2365">Partial input</text>
<g transform="translate(2850,2393) scale(42,41.9)">
<rect x="0" y="0" width="1" height="1" class="a"/><rect x="1" y="0" width="1" height="1" class="c"/><rect x="2" y="0" width="1" height="1" class="g"/><rect x="3" y="0" width="1" height="1" class="b"/><rect x="4" y="0" width="1" height="1" class="d"/>
<rect x="0" y="1" width="1" height="1" class="a"/><rect x="1" y="1" width="1" height="1" class="f"/><rect x="2" y="1" width="1" height="1" class="f"/><rect x="3" y="1" width="1" height="1" class="d"/><rect x="4" y="1" width="1" height="1" class="b"/>
<rect x="0" y="2" width="1" height="1" class="a"/><rect x="1" y="2" width="1" height="1" class="b"/><rect x="2" y="2" width="1" height="1" class="g"/><rect x="3" y="2" width="1" height="1" class="d"/><rect x="4" y="2" width="1" height="1" class="f"/>
<rect x="0" y="3" width="1" height="1" class="a"/><rect x="1" y="3" width="1" height="1" class="d"/><rect x="2" y="3" width="1" height="1" class="g"/><rect x="3" y="3" width="1" height="1" class="e"/><rect x="4" y="3" width="1" height="1" class="e"/>
<rect x="0" y="4" width="5" height="4" fill="#F3F1E6"/>
<path class="gl" style="stroke:#E9E6DA;stroke-opacity:1" d="M1 4V8M2 4V8M3 4V8M4 4V8M0 5H5M0 6H5M0 7H5"/>
<use href="#L58"/><rect width="5" height="8" class="bd"/>
</g>
</g>
</svg>
